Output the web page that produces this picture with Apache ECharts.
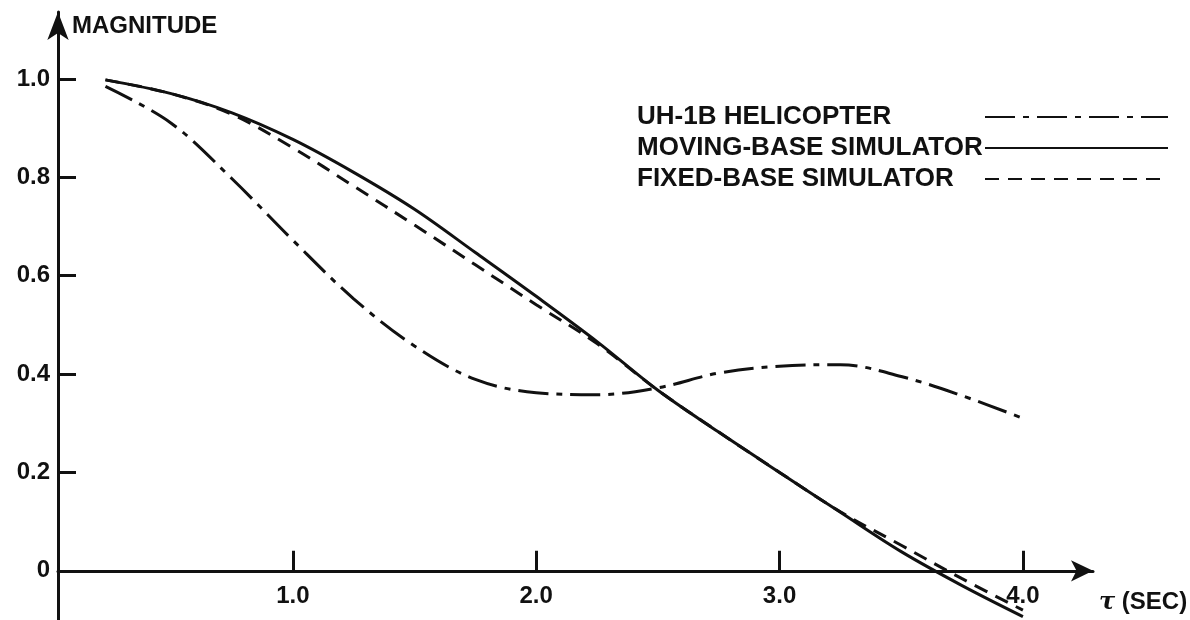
<!DOCTYPE html>
<html><head><meta charset="utf-8">
<script src="https://cdn.jsdelivr.net/npm/echarts@6/dist/echarts.min.js"></script>
<style>html,body{margin:0;padding:0;background:#fff}#c{width:1190px;height:620px}</style>
</head><body><div id="c"></div>
<script>
// time lag tau (sec)
const tValues   = [0.23, 0.5, 0.75, 1.0, 1.25, 1.5, 1.75, 2.0, 2.25, 2.5, 2.75, 3.0, 3.25, 3.5, 3.75, 4.0];
// magnitude readings
const heliMag   = [0.985, 0.91, 0.797, 0.672, 0.553, 0.457, 0.389, 0.362, 0.358, 0.372, 0.402, 0.416, 0.419, 0.395, 0.356, 0.31];
const movingMag = [0.998, 0.970, 0.931, 0.877, 0.810, 0.735, 0.647, 0.558, 0.466, 0.367, 0.282, 0.200, 0.119, 0.039, -0.030, -0.093];
const fixedMag  = [0.998, 0.970, 0.928, 0.860, 0.782, 0.703, 0.622, 0.541, 0.462, 0.367, 0.282, 0.200, 0.120, 0.052, -0.016, -0.080];
const seriesNames = ['UH-1B HELICOPTER', 'MOVING-BASE SIMULATOR', 'FIXED-BASE SIMULATOR'];
const xTickValues = [1, 2, 3, 4];
const yTickValues = [0, 0.2, 0.4, 0.6, 0.8, 1.0];

const FONT = "'Liberation Sans', Arial, sans-serif";
const INK = '#111';
const pairs = ys => tValues.map((t, i) => [t, ys[i]]);

const chart = echarts.init(document.getElementById('c'));
chart.setOption({
  animation: false,
  backgroundColor: '#fff',
  grid: { left: 58, top: 12, width: 1035, height: 608, containLabel: false, outerBoundsMode: 'none' },
  legend: {
    data: seriesNames, orient: 'vertical', align: 'right', left: 637, top: 104, padding: 0,
    itemGap: 5, itemWidth: 183, itemHeight: 26, selectedMode: false,
    itemStyle: { opacity: 0 },
    formatter: name => '{a|' + name + '}',
    textStyle: { fontFamily: FONT, fontWeight: 'bold', fontSize: 26, color: INK,
      rich: { a: { width: 343, align: 'left', fontFamily: FONT, fontWeight: 'bold', fontSize: 26, color: INK } } }
  },
  xAxis: {
    type: 'value', min: 0.035, max: 4.288,
    name: '{tau|τ} (SEC)', nameLocation: 'end', nameGap: 6,
    nameTextStyle: { fontFamily: FONT, fontWeight: 'bold', fontSize: 24, color: INK,
      verticalAlign: 'top', align: 'left', padding: [20, 0, 0, 0],
      rich: { tau: { fontFamily: "'DejaVu Serif', serif", fontStyle: 'italic', fontWeight: 'bold', fontSize: 24, color: INK } } },
    axisLine: { onZero: true, lineStyle: { color: INK, width: 3 }, symbol: ['none', 'arrow'], symbolSize: [16, 22] },
    axisTick: { inside: true, length: 20, lineStyle: { color: INK, width: 3 }, customValues: xTickValues },
    axisLabel: { customValues: xTickValues, margin: -36, fontFamily: FONT, fontWeight: 'bold', fontSize: 24, color: INK,
      formatter: v => v.toFixed(1) },
    splitLine: { show: false }
  },
  yAxis: {
    type: 'value', min: -0.1, max: 1.136,
    name: 'MAGNITUDE', nameLocation: 'end', nameGap: 0,
    nameTextStyle: { fontFamily: FONT, fontWeight: 'bold', fontSize: 24, color: INK,
      align: 'left', verticalAlign: 'top', padding: [2, 0, 0, 14] },
    axisLine: { lineStyle: { color: INK, width: 3 }, symbol: ['none', 'arrow'], symbolSize: [16, 28] },
    axisTick: { inside: true, length: 18, lineStyle: { color: INK, width: 3 }, customValues: yTickValues },
    axisLabel: { customValues: yTickValues, margin: 8, fontFamily: FONT, fontWeight: 'bold', fontSize: 24, color: INK,
      formatter: v => (v === 0 ? '0' : v.toFixed(1)) },
    splitLine: { show: false }
  },
  series: [
    { name: seriesNames[0], type: 'line', data: pairs(heliMag), smooth: 0.35, symbol: 'none',
      lineStyle: { color: INK, width: 3, type: [30, 8, 6, 8] }, itemStyle: { color: INK } },
    { name: seriesNames[1], type: 'line', data: pairs(movingMag), smooth: 0.35, symbol: 'none',
      lineStyle: { color: INK, width: 3, type: 'solid' }, itemStyle: { color: INK } },
    { name: seriesNames[2], type: 'line', data: pairs(fixedMag), smooth: 0.35, symbol: 'none',
      lineStyle: { color: INK, width: 3, type: [14, 9] }, itemStyle: { color: INK } }
  ]
});
</script>
</body></html>
